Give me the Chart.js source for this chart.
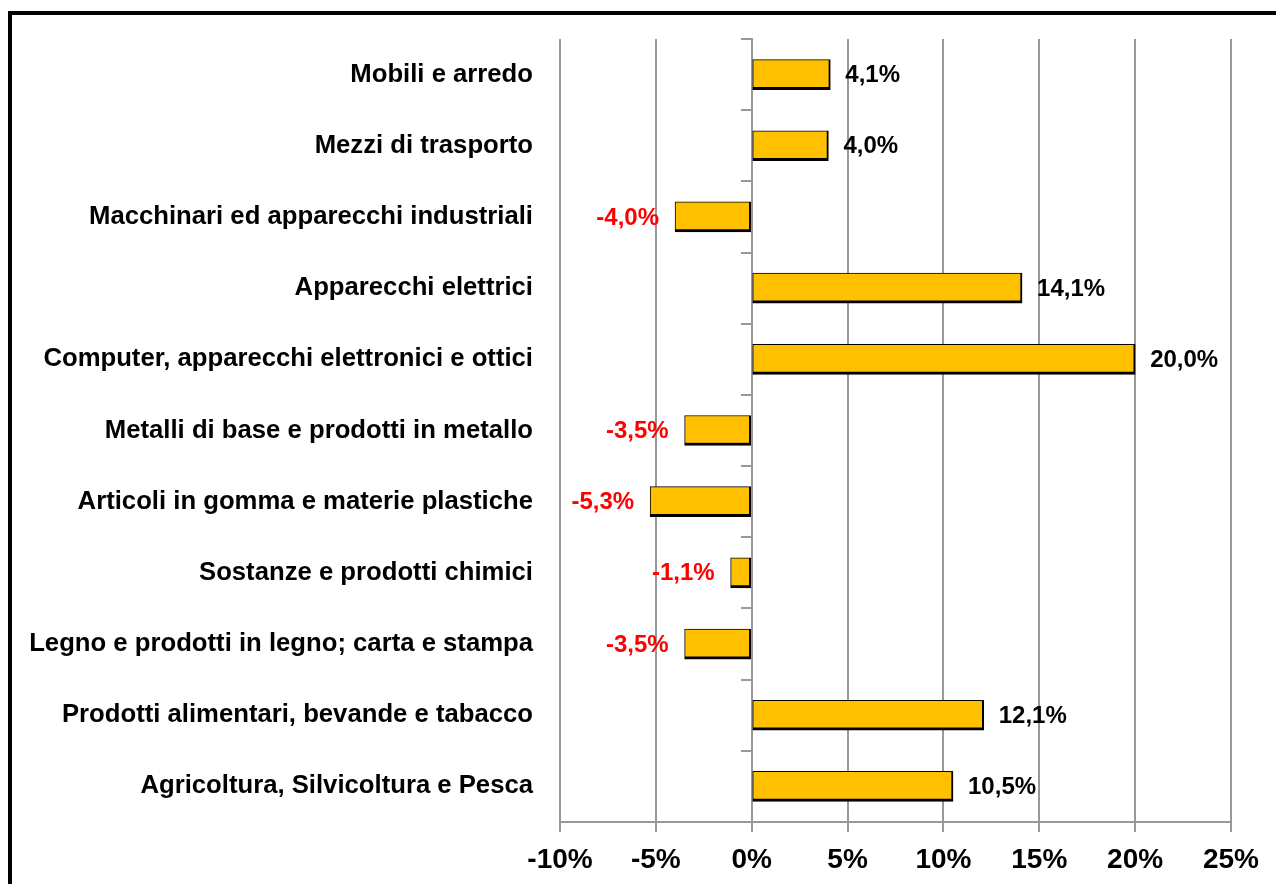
<!DOCTYPE html>
<html>
<head>
<meta charset="utf-8">
<script src="https://cdn.jsdelivr.net/npm/chart.js@4/dist/chart.umd.min.js"></script>
<style>
  html, body { margin: 0; padding: 0; background: #fff; overflow: hidden; }
  #frame { position: absolute; left: 8px; top: 11px; width: 1400px; height: 1000px; border: 4px solid #000; box-sizing: border-box; }
  #c { position: absolute; left: 0; top: 0; }
</style>
</head>
<body>
<div id="frame"></div>
<canvas id="c" width="1276" height="884"></canvas>
<script>
const categories = [
  "Mobili e arredo",
  "Mezzi di trasporto",
  "Macchinari ed apparecchi industriali",
  "Apparecchi elettrici",
  "Computer, apparecchi elettronici e ottici",
  "Metalli di base e prodotti in metallo",
  "Articoli in gomma e materie plastiche",
  "Sostanze e prodotti chimici",
  "Legno e prodotti in legno; carta e stampa",
  "Prodotti alimentari, bevande e tabacco",
  "Agricoltura, Silvicoltura e Pesca"
];
const values = [4.1, 4.0, -4.0, 14.1, 20.0, -3.5, -5.3, -1.1, -3.5, 12.1, 10.5];
const xTicks = [-10, -5, 0, 5, 10, 15, 20, 25];

const FONT = '"Liberation Sans", Arial, sans-serif';

const valueLabels = {
  id: 'valueLabels',
  afterDatasetsDraw(chart) {
    const ctx = chart.ctx;
    const meta = chart.getDatasetMeta(0);
    ctx.save();
    ctx.font = 'bold 24px ' + FONT;
    ctx.textBaseline = 'middle';
    meta.data.forEach((bar, i) => {
      const v = values[i];
      const txt = v.toFixed(1).replace('.', ',') + '%';
      if (v >= 0) {
        ctx.textAlign = 'left';
        ctx.fillStyle = '#000';
        ctx.fillText(txt, bar.x + 15, bar.y + 1);
      } else {
        ctx.textAlign = 'right';
        ctx.fillStyle = '#ff0000';
        ctx.fillText(txt, bar.x - 16, bar.y + 1);
      }
    });
    ctx.restore();
  }
};

new Chart(document.getElementById('c'), {
  type: 'bar',
  data: {
    labels: categories,
    datasets: [{
      data: values,
      yAxisID: 'y',
      backgroundColor: '#FFC000',
      borderColor: '#000',
      borderWidth: { top: 1, left: 1, right: 2, bottom: 3 },
      borderSkipped: false,
      barThickness: 30
    }]
  },
  options: {
    indexAxis: 'y',
    responsive: false,
    animation: false,
    layout: { padding: { top: 39, right: 45, left: 0, bottom: 0 } },
    plugins: { legend: { display: false }, tooltip: { enabled: false } },
    scales: {
      x: {
        type: 'linear',
        min: -10, max: 25,
        afterBuildTicks(scale) { scale.ticks = xTicks.map(v => ({ value: v })); },
        afterFit(scale) { scale.height = 62; },
        grid: { color: '#999', lineWidth: 2, tickLength: 10, drawTicks: true },
        border: { color: '#999', width: 2 },
        ticks: {
          color: '#000',
          padding: 11,
          maxRotation: 0,
          font: { family: FONT, size: 28, weight: 'bold' },
          callback: v => v + '%'
        }
      },
      y: {
        type: 'category',
        position: 'left',
        offset: true,
        afterFit(scale) { scale.width = 560; scale.paddingTop = 0; scale.paddingBottom = 0; },
        grid: { display: false, drawTicks: false },
        border: { display: false },
        ticks: {
          color: '#000',
          padding: 27,
          font: { family: FONT, size: 25.7, weight: 'bold' }
        }
      },
      y2: {
        type: 'category',
        axis: 'y',
        labels: categories,
        position: { x: 0 },
        offset: true,
        afterFit(scale) { scale.paddingTop = 0; scale.paddingBottom = 0; },
        grid: { offset: true, drawOnChartArea: false, color: '#999', lineWidth: 2, tickLength: 10 },
        border: { color: '#999', width: 2 },
        ticks: { display: false }
      }
    }
  },
  plugins: [valueLabels]
});
</script>
</body>
</html>
